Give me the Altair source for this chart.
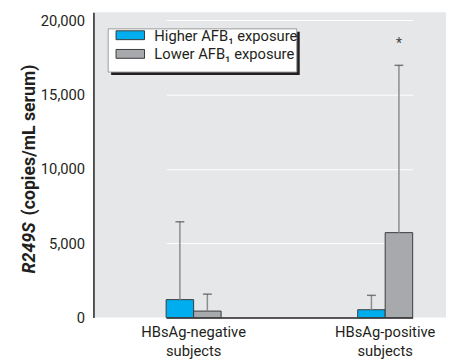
import altair as alt
import pandas as pd

groups = ["HBsAg-negative subjects", "HBsAg-positive subjects"]
series = ["Higher AFB₁ exposure", "Lower AFB₁ exposure"]
colors = ["#00AEEF", "#A7A9AC"]
higher_mean = [1210, 530]
lower_mean = [440, 5720]
higher_upper = [6450, 1500]
lower_upper = [1580, 16980]
star_group = "HBsAg-positive subjects"
star_series = "Lower AFB₁ exposure"
star_value = 18420
y_ticks = [0, 5000, 10000, 15000, 20000]

rows = []
for i, g in enumerate(groups):
    rows.append({"group": g, "series": series[0], "value": higher_mean[i], "upper": higher_upper[i]})
    rows.append({"group": g, "series": series[1], "value": lower_mean[i], "upper": lower_upper[i]})
df = pd.DataFrame(rows)
star_df = pd.DataFrame([{"group": star_group, "series": star_series, "value": star_value, "t": "*"}])

FONT = "Roboto, Liberation Sans, sans-serif"
TXT = "#231F20"

x_enc = alt.X("group:N", sort=groups, title=None,
              scale=alt.Scale(domain=groups, range=[74, 325], paddingInner=0.713, paddingOuter=0),
              axis=alt.Axis(labelExpr="split(datum.label, ' ')", labelAngle=0, ticks=False,
                            labelPadding=7, labelFont=FONT, labelFontSize=15, labelColor=TXT,
                            labelLineHeight=20, domainColor="#231F20", domainWidth=1.5,
                            grid=False))
xo_enc = alt.XOffset("series:N", sort=series,
                     scale=alt.Scale(domain=series, paddingInner=0, paddingOuter=0))
y_scale = alt.Scale(domain=[0, 20560], nice=False, zero=True)
y_enc = alt.Y("value:Q", scale=y_scale, title=None,
              axis=alt.Axis(values=y_ticks, format=",d", ticks=False, labelPadding=9,
                            labelFont=FONT, labelFontSize=15, labelColor=TXT,
                            domainColor="#231F20", domainWidth=1.5,
                            grid=True, gridColor="white", gridWidth=1))

base = alt.Chart(df)

bars = base.mark_bar(stroke="#3a3a3a", strokeWidth=1).encode(
    x=x_enc, xOffset=xo_enc, y=y_enc,
    color=alt.Color("series:N", scale=alt.Scale(domain=series, range=colors), legend=None),
)
whisk = base.mark_rule(color="#8C8C8C", strokeWidth=1.5).encode(
    x=alt.X("group:N", sort=groups), xOffset=alt.XOffset("series:N", sort=series),
    y=alt.Y("value:Q"), y2="upper:Q",
)
caps = base.mark_tick(color="#4a4a4a", thickness=1.5, size=9, orient="horizontal").encode(
    x=alt.X("group:N", sort=groups), xOffset=alt.XOffset("series:N", sort=series),
    y=alt.Y("upper:Q"),
)
star = alt.Chart(star_df).mark_text(font=FONT, fontSize=14, color="#444444", baseline="middle").encode(
    x=alt.X("group:N", sort=groups), xOffset=alt.XOffset("series:N", sort=series),
    y=alt.Y("value:Q"), text="t:N",
)

# y-axis title (mixed italic / regular bold)
t1 = alt.Chart(pd.DataFrame({"t": ["R249S"]})).mark_text(
    font=FONT, fontSize=18, fontWeight="bold", fontStyle="italic", angle=270,
    align="left", baseline="middle", color=TXT
).encode(x=alt.value(-65), y=alt.value(266), text="t:N")
t2 = alt.Chart(pd.DataFrame({"t": ["(copies/mL serum)"]})).mark_text(
    font=FONT, fontSize=18, fontWeight="bold", angle=270,
    align="left", baseline="middle", color=TXT
).encode(x=alt.value(-65), y=alt.value(207), text="t:N")

# legend box with shadow
leg_df = pd.DataFrame({"series": series, "top": [19, 38]})
shadow = alt.Chart(pd.DataFrame({"a": [1]})).mark_rect(color="#231F20").encode(
    x=alt.value(18), x2=alt.value(210), y=alt.value(20), y2=alt.value(64))
box = alt.Chart(pd.DataFrame({"a": [1]})).mark_rect(fill="white", stroke="#9a9a9a", strokeWidth=1).encode(
    x=alt.value(15), x2=alt.value(207), y=alt.value(17), y2=alt.value(61))
leg_sym = alt.Chart(leg_df).transform_calculate(bot="datum.top + 9").mark_rect(
    stroke="#3a3a3a", strokeWidth=1).encode(
    x=alt.value(23), x2=alt.value(52),
    y=alt.Y("top:Q", scale=None), y2="bot:Q",
    color=alt.Color("series:N", scale=alt.Scale(domain=series, range=colors), legend=None),
)
leg_txt = alt.Chart(leg_df).transform_calculate(mid="datum.top + 5").mark_text(
    font=FONT, fontSize=15, align="left", baseline="middle", color=TXT).encode(
    x=alt.value(62), y=alt.Y("mid:Q", scale=None), text="series:N")

chart = alt.layer(bars, whisk, caps, star, t1, t2, shadow, box, leg_sym, leg_txt).properties(
    width=359, height=311,
    padding={"left": 87, "top": 1, "right": 4, "bottom": 44},
    autosize=alt.AutoSizeParams(type="none"),
    background="white",
).configure_view(fill="#E6E7E8", stroke=None)

chart.save("out.html", embed_options={"renderer": "svg", "actions": False})
